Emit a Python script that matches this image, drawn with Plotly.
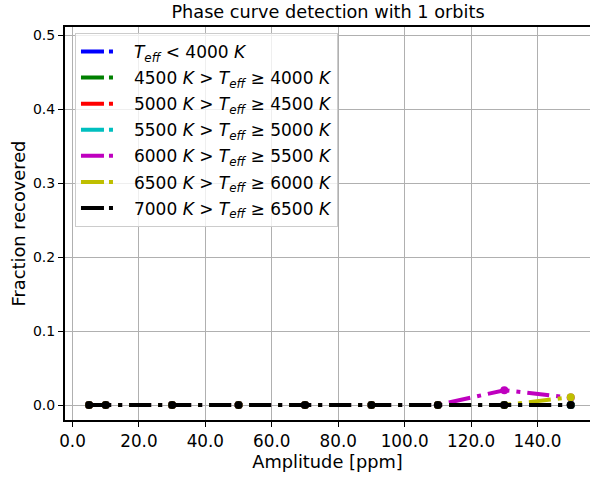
import plotly.graph_objects as go

amplitude = [5, 10, 30, 50, 70, 90, 110, 130, 150]
series_names = [
    "<i>T</i><sub><i>eff</i></sub> &lt; 4000 <i>K</i>",
    "4500 <i>K</i> &gt; <i>T</i><sub><i>eff</i></sub> ≥ 4000 <i>K</i>",
    "5000 <i>K</i> &gt; <i>T</i><sub><i>eff</i></sub> ≥ 4500 <i>K</i>",
    "5500 <i>K</i> &gt; <i>T</i><sub><i>eff</i></sub> ≥ 5000 <i>K</i>",
    "6000 <i>K</i> &gt; <i>T</i><sub><i>eff</i></sub> ≥ 5500 <i>K</i>",
    "6500 <i>K</i> &gt; <i>T</i><sub><i>eff</i></sub> ≥ 6000 <i>K</i>",
    "7000 <i>K</i> &gt; <i>T</i><sub><i>eff</i></sub> ≥ 6500 <i>K</i>",
]
frac_lt4000 = [0, 0, 0, 0, 0, 0, 0, 0, 0]
frac_4000_4500 = [0, 0, 0, 0, 0, 0, 0, 0, 0]
frac_4500_5000 = [0, 0, 0, 0, 0, 0, 0, 0, 0]
frac_5000_5500 = [0, 0, 0, 0, 0, 0, 0, 0, 0]
frac_5500_6000 = [0, 0, 0, 0, 0, 0, 0, 0.02, 0.01]
frac_6000_6500 = [0, 0, 0, 0, 0, 0, 0, 0, 0.0105]
frac_6500_7000 = [0, 0, 0, 0, 0, 0, 0, 0, 0]
series_values = [frac_lt4000, frac_4000_4500, frac_4500_5000, frac_5000_5500,
                 frac_5500_6000, frac_6000_6500, frac_6500_7000]
colors = ["#0000ff", "#008000", "#ff0000", "#00bfbf", "#bf00bf", "#bfbf00", "#000000"]

x_ticks = [0, 20, 40, 60, 80, 100, 120, 140]
y_ticks = [0.0, 0.1, 0.2, 0.3, 0.4, 0.5]

fig = go.Figure()
for name, vals, col in zip(series_names, series_values, colors):
    fig.add_trace(go.Scatter(
        x=amplitude, y=vals, mode="lines",
        line=dict(color=col, width=4, dash="22px,7px,4px,7px"),
        showlegend=False, hoverinfo="skip"))
    fig.add_trace(go.Scatter(
        x=amplitude, y=vals, mode="markers",
        marker=dict(color=col, size=8, symbol="circle"),
        showlegend=False, hoverinfo="skip"))
for i, (name, col) in enumerate(zip(series_names, colors)):
    fig.add_trace(go.Scatter(
        x=[None], y=[None], mode="lines", name=name, legendgroup=f"g{i}",
        line=dict(color=col, width=4, dash="23px,5px,4px,20px"),
        showlegend=True))

font_family = "DejaVu Sans"
fig.update_layout(
    width=590, height=477,
    margin=dict(l=65, r=0, t=27, b=57),
    paper_bgcolor="white", plot_bgcolor="white",
    font=dict(family=font_family, size=17, color="black"),
    title=dict(text="Phase curve detection with 1 orbits", xref="container", yref="container",
               x=0.556, y=0.975, xanchor="center", yanchor="middle",
               font=dict(size=17.7)),
    xaxis=dict(range=[-2.25, 155.8], tickvals=x_ticks, tickformat=".1f",
               showgrid=True, gridcolor="#b0b0b0", gridwidth=1,
               showline=True, linecolor="black", linewidth=2, mirror=True,
               ticks="outside", ticklen=5, tickwidth=1, tickcolor="black",
               tickfont=dict(size=16.8), zeroline=False,
               title=dict(text="Amplitude [ppm]", font=dict(size=17.8), standoff=3)),
    yaxis=dict(range=[-0.0203, 0.5115], tickvals=y_ticks, tickformat=".1f",
               showgrid=True, gridcolor="#b0b0b0", gridwidth=1,
               showline=True, linecolor="black", linewidth=2, mirror=False,
               ticks="outside", ticklen=5, tickwidth=1, tickcolor="black",
               tickfont=dict(size=14), zeroline=False,
               title=dict(text="Fraction recovered", font=dict(size=17.8), standoff=3)),
    legend=dict(x=0.019, y=0.985, xanchor="left", yanchor="top",
                bgcolor="rgba(255,255,255,0.8)", bordercolor="#cccccc", borderwidth=1,
                font=dict(size=17), itemwidth=48, tracegroupgap=1),
    showlegend=True,
)

fig.write_html("out.html")
